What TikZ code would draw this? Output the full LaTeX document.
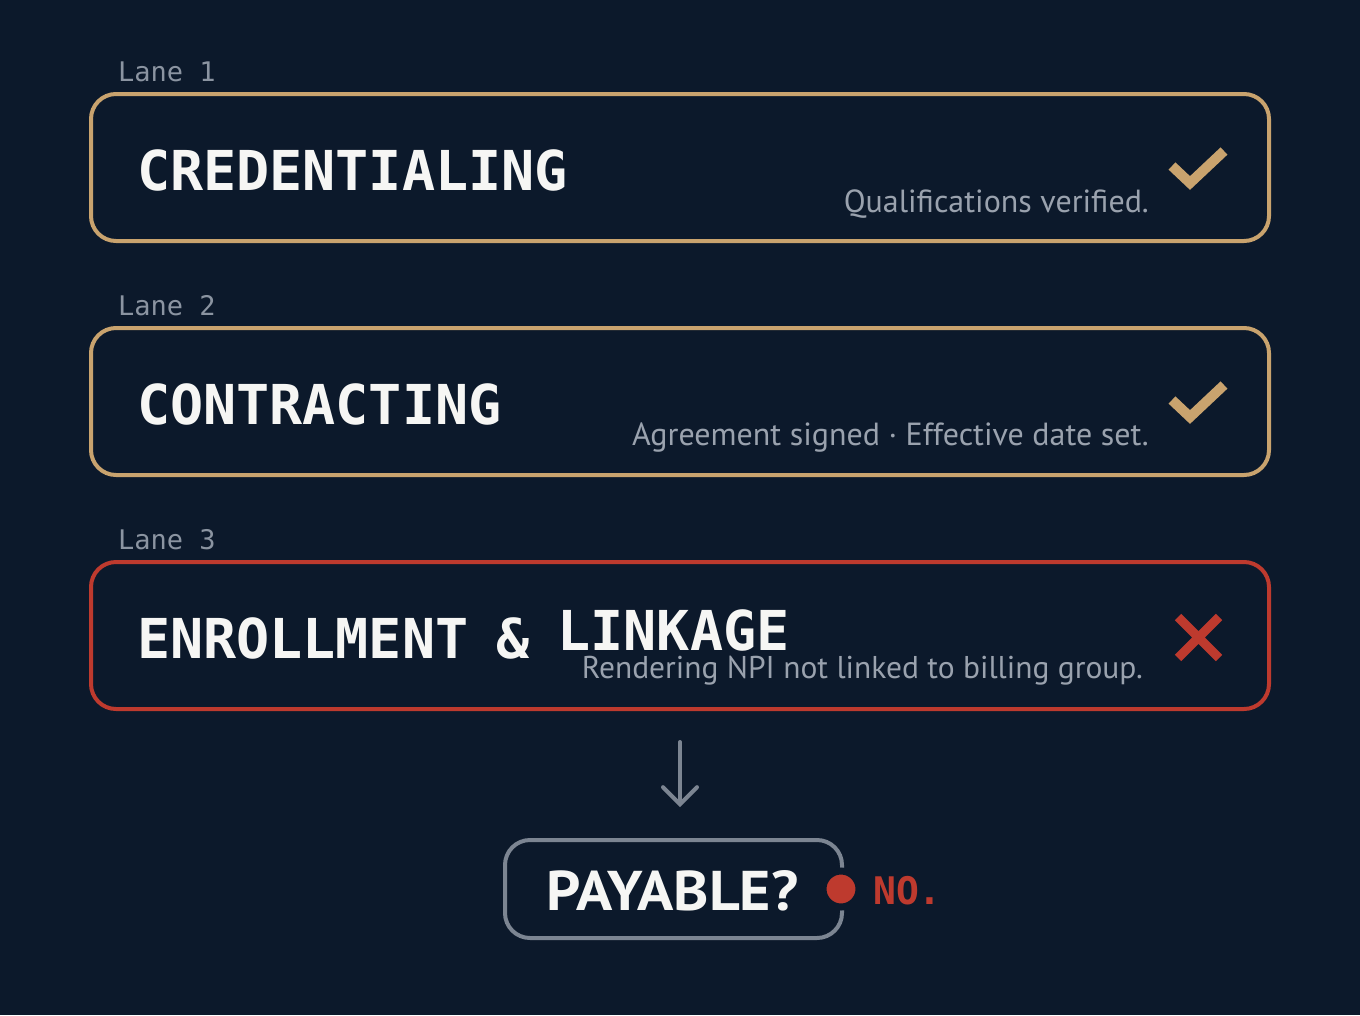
\documentclass[tikz,border=0pt]{standalone}
\usepackage{fontspec}
\usetikzlibrary{arrows.meta}
\newfontfamily\monofont{DejaVu Sans Mono}
\newfontfamily\subfont{PT Sans}
\newfontfamily\payfont{PT Sans}
\definecolor{bg}{HTML}{0C192B}
\definecolor{gold}{HTML}{C9A36E}
\definecolor{redc}{HTML}{BE3A2E}
\definecolor{subgray}{HTML}{9AA2AE}
\definecolor{lanegray}{HTML}{8B94A1}
\definecolor{boxgray}{HTML}{7C8592}
\definecolor{whitec}{HTML}{F6F6F4}
\tikzset{
  lanebox/.style={rectangle, rounded corners=25pt, line width=4pt, minimum width=1178pt, minimum height=147pt, inner sep=0pt},
  lanelabel/.style={anchor=base west, inner sep=0pt, text=lanegray, font=\monofont\fontsize{27}{30}\selectfont},
  title/.style={anchor=base west, inner sep=0pt, text=whitec, font=\monofont\bfseries\fontsize{55}{60}\selectfont},
  subtext/.style={anchor=base east, inner sep=0pt, text=subgray, font=\subfont\fontsize{32}{35}\selectfont},
}
\begin{document}
\begin{tikzpicture}[x=1pt,y=-1pt]
\fill[bg] (0,0) rectangle (1360,1015);
\useasboundingbox (0,0) rectangle (1360,1015);

% lane 1
\node[lanelabel] (l1) at (118,81) {Lane 1};
\node[lanebox, draw=gold] (b1) at (680,167.5) {};
\node[title] (t1) at (137,190) {CREDENTIALING};
\node[subtext] (s1) at (1149,212) {Qualifications verified.};
\draw[line width=10pt, gold] (1172,166) -- (1190,183) -- (1224,151);

% lane 2
\node[lanelabel] (l2) at (118,315) {Lane 2};
\node[lanebox, draw=gold] (b2) at (680,401.5) {};
\node[title] (t2) at (137,424) {CONTRACTING};
\node[subtext] (s2) at (1149,445) {Agreement signed · Effective date set.};
\draw[line width=10pt, gold] (1172,400) -- (1190,417) -- (1224,385);

% lane 3
\node[lanelabel] (l3) at (118,549) {Lane 3};
\node[lanebox, draw=redc] (b3) at (680,635.5) {};
\node[title] (t3) at (137,658) {ENROLLMENT\hspace{-5pt} \&\hspace{-5pt} \raisebox{8pt}{LINKAGE}};
\node[subtext, font=\subfont\fontsize{31.5}{34}\selectfont] (s3) at (1143,678) {Rendering NPI not linked to billing group.};
\draw[line width=9pt, redc] (1178,617) -- (1219,658) (1219,617) -- (1178,658);

% payable
\node[rectangle, rounded corners=25pt, line width=4pt, draw=boxgray, minimum width=337pt, minimum height=98pt, inner sep=0pt] (pay) at (673.5,889) {};
\node[anchor=base, inner sep=0pt, text=whitec, font=\payfont\bfseries\fontsize{56}{60}\selectfont] (pt) at (672.5,910) {\scalebox{1.07}[1]{PAYABLE?}};
\node[circle, fill=redc, draw=bg, line width=7pt, minimum size=36pt, inner sep=0pt] (dot) at (841,889) {};
\node[anchor=base west, inner sep=0pt, text=redc, font=\monofont\bfseries\fontsize{38}{40}\selectfont] (no) at (873,904) {NO.};

\draw[boxgray, line width=4pt, line cap=round, -{Straight Barb[length=17pt, width=34pt, line width=4pt, line cap=round]}] ([yshift=-31pt]b3.south) -- ([yshift=31pt]b3.south |- pay.north);
\end{tikzpicture}
\end{document}
